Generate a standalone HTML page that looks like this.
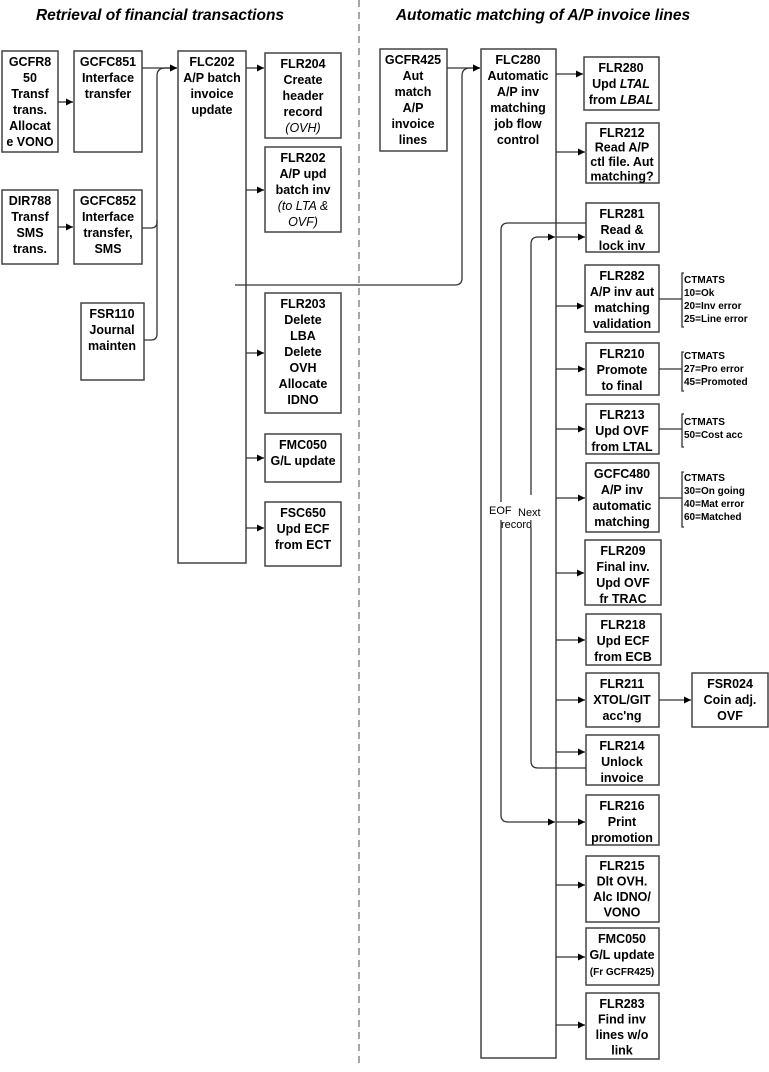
<!DOCTYPE html>
<html><head><style>
body{margin:0;background:#fff}
svg text{font-family:"Liberation Sans",Arial,sans-serif;font-weight:bold;font-size:12.5px;fill:#000}
.t{font-style:italic;font-size:15.5px}
.s{font-size:10px}
.n{font-weight:normal;font-style:italic}
.l{font-weight:normal;font-size:11px}
</style></head><body>
<svg width="769" height="1067" viewBox="0 0 769 1067" xmlns="http://www.w3.org/2000/svg">
<defs><marker id="a" markerWidth="8" markerHeight="8" refX="7" refY="4" orient="auto" markerUnits="userSpaceOnUse"><path d="M0,0.5 L7,4 L0,7.5z" fill="#000"/></marker></defs>
<text class="t" x="160" y="20" text-anchor="middle">Retrieval of financial transactions</text>
<text class="t" x="543" y="20" text-anchor="middle">Automatic matching of A/P invoice lines</text>
<line x1="359" y1="0" x2="359" y2="1067" stroke="#777" stroke-dasharray="7,5" stroke-width="1.3"/>
<g fill="#fff" stroke="#444" stroke-width="1.5">
<rect x="2" y="51" width="56" height="101"/><rect x="74" y="51" width="68" height="101"/>
<rect x="2" y="190" width="56" height="74"/><rect x="74" y="190" width="68" height="74"/>
<rect x="81" y="303" width="63" height="77"/><rect x="178" y="51" width="68" height="512"/>
<rect x="265" y="53" width="76" height="85"/><rect x="265" y="147" width="76" height="85"/>
<rect x="265" y="293" width="76" height="120"/><rect x="265" y="434" width="76" height="48"/>
<rect x="265" y="502" width="76" height="64"/>
<rect x="380" y="49" width="67" height="102"/><rect x="481" y="49" width="75" height="1009"/>
<rect x="584" y="57" width="75" height="53"/><rect x="586" y="123" width="73" height="60"/>
<rect x="586" y="203" width="73" height="49"/><rect x="585" y="265" width="74" height="67"/>
<rect x="586" y="343" width="73" height="52"/><rect x="586" y="404" width="73" height="50"/>
<rect x="586" y="463" width="73" height="69"/><rect x="585" y="540" width="76" height="65"/>
<rect x="586" y="614" width="75" height="51"/><rect x="586" y="673" width="73" height="54"/>
<rect x="692" y="673" width="76" height="54"/><rect x="586" y="735" width="73" height="50"/>
<rect x="586" y="795" width="73" height="50"/><rect x="586" y="856" width="73" height="66"/>
<rect x="586" y="928" width="73" height="57"/><rect x="586" y="993" width="73" height="66"/>
</g>
<g stroke="#333" stroke-width="1.3" fill="none">
<line x1="58" y1="102" x2="73" y2="102" marker-end="url(#a)"/>
<line x1="58" y1="227" x2="73" y2="227" marker-end="url(#a)"/>
<line x1="142" y1="68" x2="177" y2="68" marker-end="url(#a)"/>
<path d="M142,228 H151 Q157,228 157,222 V76 Q157,68 165,68 H177" marker-end="url(#a)"/>
<path d="M144,340 H151 Q157,340 157,334 V220"/>
<line x1="246" y1="68" x2="264" y2="68" marker-end="url(#a)"/>
<line x1="246" y1="190" x2="264" y2="190" marker-end="url(#a)"/>
<line x1="246" y1="353" x2="264" y2="353" marker-end="url(#a)"/>
<line x1="246" y1="458" x2="264" y2="458" marker-end="url(#a)"/>
<line x1="246" y1="528" x2="264" y2="528" marker-end="url(#a)"/>
<path d="M235,285 H455 Q462,285 462,278 V76 Q462,68 470,68 H480" marker-end="url(#a)"/>
<line x1="447" y1="68" x2="480" y2="68" marker-end="url(#a)"/>
<line x1="556" y1="74" x2="583" y2="74" marker-end="url(#a)"/>
<line x1="556" y1="152" x2="585" y2="152" marker-end="url(#a)"/>
<line x1="556" y1="237" x2="585" y2="237" marker-end="url(#a)"/>
<line x1="556" y1="306" x2="584" y2="306" marker-end="url(#a)"/>
<line x1="556" y1="369" x2="585" y2="369" marker-end="url(#a)"/>
<line x1="556" y1="429" x2="585" y2="429" marker-end="url(#a)"/>
<line x1="556" y1="498" x2="585" y2="498" marker-end="url(#a)"/>
<line x1="556" y1="573" x2="584" y2="573" marker-end="url(#a)"/>
<line x1="556" y1="640" x2="585" y2="640" marker-end="url(#a)"/>
<line x1="556" y1="700" x2="585" y2="700" marker-end="url(#a)"/>
<line x1="659" y1="700" x2="691" y2="700" marker-end="url(#a)"/>
<line x1="556" y1="752" x2="585" y2="752" marker-end="url(#a)"/>
<line x1="556" y1="822" x2="585" y2="822" marker-end="url(#a)"/>
<line x1="556" y1="885" x2="585" y2="885" marker-end="url(#a)"/>
<line x1="556" y1="957" x2="585" y2="957" marker-end="url(#a)"/>
<line x1="556" y1="1025" x2="585" y2="1025" marker-end="url(#a)"/>
<path d="M586,223 H508 Q501,223 501,230 V502 M501,520 V815 Q501,822 508,822 H555" marker-end="url(#a)"/>
<path d="M586,768 H538 Q531,768 531,761 V528 M531,495 V244 Q531,237 538,237 H555" marker-end="url(#a)"/>
<path d="M659,299 H682 M684,273 H682 V327 H684"/>
<path d="M659,369 H682 M684,352 H682 V391 H684"/>
<path d="M659,429 H682 M684,414 H682 V447 H684"/>
<path d="M659,498 H682 M684,472 H682 V527 H684"/>
</g>
<g text-anchor="middle">
<text x="30" y="66">GCFR8</text><text x="30" y="82">50</text><text x="30" y="98">Transf</text><text x="30" y="114">trans.</text><text x="30" y="130">Allocat</text><text x="30" y="146">e VONO</text>
<text x="108" y="66">GCFC851</text><text x="108" y="82">Interface</text><text x="108" y="98">transfer</text>
<text x="30" y="205">DIR788</text><text x="30" y="221">Transf</text><text x="30" y="237">SMS</text><text x="30" y="253">trans.</text>
<text x="108" y="205">GCFC852</text><text x="108" y="221">Interface</text><text x="108" y="237">transfer,</text><text x="108" y="253">SMS</text>
<text x="112" y="318">FSR110</text><text x="112" y="334">Journal</text><text x="112" y="350">mainten</text>
<text x="212" y="66">FLC202</text><text x="212" y="82">A/P batch</text><text x="212" y="98">invoice</text><text x="212" y="114">update</text>
<text x="303" y="68">FLR204</text><text x="303" y="84">Create</text><text x="303" y="100">header</text><text x="303" y="116">record</text><text class="n" x="303" y="132">(OVH)</text>
<text x="303" y="162">FLR202</text><text x="303" y="178">A/P upd</text><text x="303" y="194">batch inv</text><text class="n" x="303" y="210">(to LTA &amp;</text><text class="n" x="303" y="226">OVF)</text>
<text x="303" y="308">FLR203</text><text x="303" y="324">Delete</text><text x="303" y="340">LBA</text><text x="303" y="356">Delete</text><text x="303" y="372">OVH</text><text x="303" y="388">Allocate</text><text x="303" y="404">IDNO</text>
<text x="303" y="449">FMC050</text><text x="303" y="465">G/L update</text>
<text x="303" y="517">FSC650</text><text x="303" y="533">Upd ECF</text><text x="303" y="549">from ECT</text>
<text x="413" y="64">GCFR425</text><text x="413" y="80">Aut</text><text x="413" y="96">match</text><text x="413" y="112">A/P</text><text x="413" y="128">invoice</text><text x="413" y="144">lines</text>
<text x="518" y="64">FLC280</text><text x="518" y="80">Automatic</text><text x="518" y="96">A/P inv</text><text x="518" y="112">matching</text><text x="518" y="128">job flow</text><text x="518" y="144">control</text>
<text x="621" y="72">FLR280</text><text x="621" y="88">Upd <tspan font-style="italic">LTAL</tspan></text><text x="621" y="104">from <tspan font-style="italic">LBAL</tspan></text>
<text x="622" y="137">FLR212</text><text x="622" y="151.5">Read  A/P</text><text x="622" y="166">ctl file. Aut</text><text x="622" y="180.5">matching?</text>
<text x="622" y="218">FLR281</text><text x="622" y="234">Read &amp;</text><text x="622" y="250">lock inv</text>
<text x="622" y="280">FLR282</text><text x="622" y="296">A/P inv aut</text><text x="622" y="312">matching</text><text x="622" y="328">validation</text>
<text x="622" y="358">FLR210</text><text x="622" y="374">Promote</text><text x="622" y="390">to final</text>
<text x="622" y="419">FLR213</text><text x="622" y="435">Upd OVF</text><text x="622" y="451">from LTAL</text>
<text x="622" y="478">GCFC480</text><text x="622" y="494">A/P inv</text><text x="622" y="510">automatic</text><text x="622" y="526">matching</text>
<text x="623" y="555">FLR209</text><text x="623" y="571">Final inv.</text><text x="623" y="587">Upd OVF</text><text x="623" y="603">fr TRAC</text>
<text x="623" y="629">FLR218</text><text x="623" y="645">Upd ECF</text><text x="623" y="661">from ECB</text>
<text x="622" y="688">FLR211</text><text x="622" y="704">XTOL/GIT</text><text x="622" y="720">acc'ng</text>
<text x="730" y="688">FSR024</text><text x="730" y="704">Coin adj.</text><text x="730" y="720">OVF</text>
<text x="622" y="750">FLR214</text><text x="622" y="766">Unlock</text><text x="622" y="782">invoice</text>
<text x="622" y="810">FLR216</text><text x="622" y="826">Print</text><text x="622" y="842">promotion</text>
<text x="622" y="870">FLR215</text><text x="622" y="885.5">Dlt OVH.</text><text x="622" y="901">Alc IDNO/</text><text x="622" y="916.5">VONO</text>
<text x="622" y="943">FMC050</text><text x="622" y="959">G/L update</text><text class="s" x="622" y="975">(Fr GCFR425)</text>
<text x="622" y="1008">FLR283</text><text x="622" y="1023.5">Find inv</text><text x="622" y="1039">lines w/o</text><text x="622" y="1054.5">link</text>
</g>
<g text-anchor="start">
<text class="s" x="684" y="283">CTMATS</text><text class="s" x="684" y="296">10=Ok</text><text class="s" x="684" y="309">20=Inv error</text><text class="s" x="684" y="322">25=Line error</text>
<text class="s" x="684" y="359">CTMATS</text><text class="s" x="684" y="372">27=Pro error</text><text class="s" x="684" y="385">45=Promoted</text>
<text class="s" x="684" y="425">CTMATS</text><text class="s" x="684" y="438">50=Cost acc</text>
<text class="s" x="684" y="481">CTMATS</text><text class="s" x="684" y="494">30=On going</text><text class="s" x="684" y="507">40=Mat error</text><text class="s" x="684" y="520">60=Matched</text>
</g>
<text class="l" x="489" y="514">EOF</text><text class="l" x="518" y="516">Next</text><text class="l" x="501" y="528">record</text>
</svg>
</body></html>
